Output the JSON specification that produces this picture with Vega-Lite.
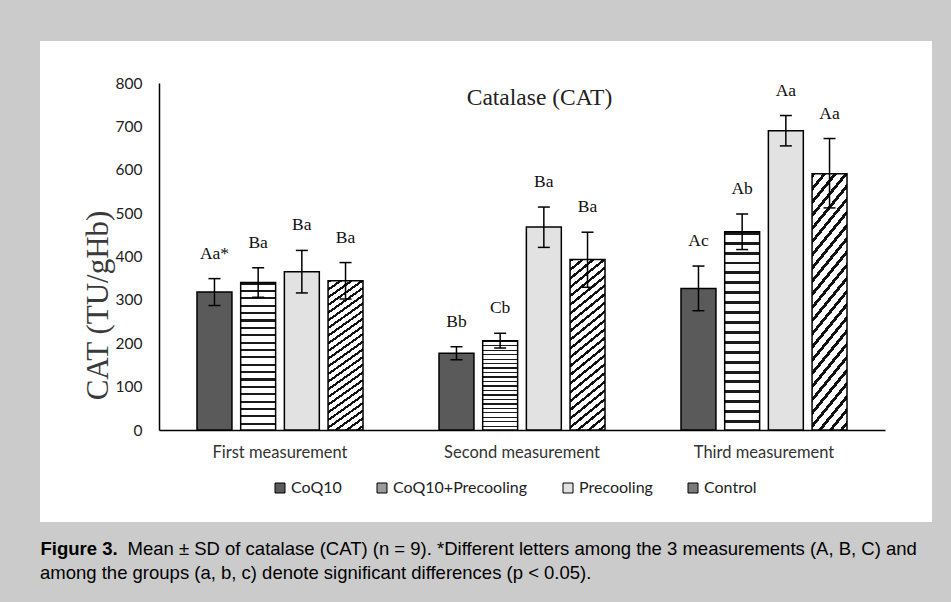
{
  "$schema": "https://vega.github.io/schema/vega-lite/v6.json",
  "width": 892,
  "height": 481,
  "autosize": {"type": "none"},
  "padding": {"left": 40, "top": 41, "right": 19, "bottom": 80},
  "background": "#cbcbcb",
  "title": {
    "text": "among the groups (a, b, c) denote significant differences (p < 0.05).",
    "orient": "top",
    "anchor": "start",
    "frame": "group",
    "baseline": "alphabetic",
    "offset": -556,
    "font": "Liberation Sans",
    "fontSize": 18.5,
    "fontWeight": "normal",
    "color": "#000000"
  },
  "config": {"view": {"fill": "white", "stroke": null}},
  "resolve": {"axis": {"x": "independent", "y": "independent"}},
  "data": {
    "values": [
      {"measurement": "First measurement", "group": "CoQ10", "mean": 318, "lo": 287, "hi": 349, "label": "Aa*"},
      {"measurement": "First measurement", "group": "CoQ10+Precooling", "mean": 340, "lo": 306, "hi": 374, "label": "Ba"},
      {"measurement": "First measurement", "group": "Precooling", "mean": 365, "lo": 316, "hi": 414, "label": "Ba"},
      {"measurement": "First measurement", "group": "Control", "mean": 344, "lo": 302, "hi": 386, "label": "Ba"},
      {"measurement": "Second measurement", "group": "CoQ10", "mean": 177, "lo": 162, "hi": 192, "label": "Bb"},
      {"measurement": "Second measurement", "group": "CoQ10+Precooling", "mean": 206, "lo": 189, "hi": 223, "label": "Cb"},
      {"measurement": "Second measurement", "group": "Precooling", "mean": 468, "lo": 421, "hi": 514, "label": "Ba"},
      {"measurement": "Second measurement", "group": "Control", "mean": 393, "lo": 329, "hi": 456, "label": "Ba"},
      {"measurement": "Third measurement", "group": "CoQ10", "mean": 326, "lo": 275, "hi": 378, "label": "Ac"},
      {"measurement": "Third measurement", "group": "CoQ10+Precooling", "mean": 457, "lo": 416, "hi": 498, "label": "Ab"},
      {"measurement": "Third measurement", "group": "Precooling", "mean": 690, "lo": 655, "hi": 725, "label": "Aa"},
      {"measurement": "Third measurement", "group": "Control", "mean": 591, "lo": 512, "hi": 672, "label": "Aa"}
    ]
  },
  "encoding": {
    "x": {
      "field": "measurement",
      "type": "nominal",
      "sort": ["First measurement", "Second measurement", "Third measurement"],
      "scale": {"range": [119, 845], "paddingInner": 0.314, "paddingOuter": 0.157},
      "axis": null
    },
    "xOffset": {
      "field": "group",
      "type": "nominal",
      "sort": ["CoQ10", "CoQ10+Precooling", "Precooling", "Control"],
      "scale": {"paddingInner": 0.2, "paddingOuter": 0}
    }
  },
  "layer": [
    {
      "mark": {"type": "bar", "stroke": "#000000", "strokeWidth": 1.5},
      "encoding": {
        "x": {
          "field": "measurement",
          "type": "nominal",
          "sort": ["First measurement", "Second measurement", "Third measurement"],
          "scale": {"range": [119, 845], "paddingInner": 0.314, "paddingOuter": 0.157},
          "axis": {
            "orient": "bottom",
            "offset": -92,
            "ticks": false,
            "grid": false,
            "domainColor": "#000000",
            "domainWidth": 1.5,
            "labelAngle": 0,
            "labelFont": "Lato",
            "labelFontSize": 16.5,
            "labelColor": "#333333",
            "labelPadding": 14,
            "title": "Catalase (CAT)",
            "titleFont": "Liberation Serif",
            "titleFontSize": 23.5,
            "titleFontWeight": "normal",
            "titleColor": "#222222",
            "titleX": 499,
            "titleY": -333,
            "titleAlign": "center",
            "titleBaseline": "middle"
          }
        },
        "y": {
          "field": "mean",
          "type": "quantitative",
          "scale": {"domain": [0, 800], "range": [389, 42], "nice": false},
          "axis": {
            "orient": "left",
            "offset": -119,
            "ticks": false,
            "grid": false,
            "values": [0, 100, 200, 300, 400, 500, 600, 700, 800],
            "domainColor": "#000000",
            "domainWidth": 1.5,
            "labelFont": "Lato",
            "labelFontSize": 15.5,
            "labelColor": "#222222",
            "labelPadding": 17,
            "title": "CAT (TU/gHb)",
            "titleFont": "Liberation Serif",
            "titleFontSize": 31,
            "titleFontWeight": "normal",
            "titleColor": "#3a3a3a",
            "titleX": -61,
            "titleY": 264,
            "titleAngle": -90,
            "titleAlign": "center",
            "titleBaseline": "middle"
          }
        },
        "fill": {
          "condition": [
            {"test": "datum.group === 'CoQ10+Precooling'", "value": {"gradient": "linear", "x1": 0, "y1": 0, "x2": 0, "y2": 1, "stops": [
              {"offset": 0, "color": "#1a1a1a"}, {"offset": 0.015, "color": "#1a1a1a"}, {"offset": 0.015, "color": "#ffffff"}, {"offset": 0.05, "color": "#ffffff"},
              {"offset": 0.05, "color": "#1a1a1a"}, {"offset": 0.065, "color": "#1a1a1a"}, {"offset": 0.065, "color": "#ffffff"}, {"offset": 0.1, "color": "#ffffff"},
              {"offset": 0.1, "color": "#1a1a1a"}, {"offset": 0.115, "color": "#1a1a1a"}, {"offset": 0.115, "color": "#ffffff"}, {"offset": 0.15, "color": "#ffffff"},
              {"offset": 0.15, "color": "#1a1a1a"}, {"offset": 0.165, "color": "#1a1a1a"}, {"offset": 0.165, "color": "#ffffff"}, {"offset": 0.2, "color": "#ffffff"},
              {"offset": 0.2, "color": "#1a1a1a"}, {"offset": 0.215, "color": "#1a1a1a"}, {"offset": 0.215, "color": "#ffffff"}, {"offset": 0.25, "color": "#ffffff"},
              {"offset": 0.25, "color": "#1a1a1a"}, {"offset": 0.265, "color": "#1a1a1a"}, {"offset": 0.265, "color": "#ffffff"}, {"offset": 0.3, "color": "#ffffff"},
              {"offset": 0.3, "color": "#1a1a1a"}, {"offset": 0.315, "color": "#1a1a1a"}, {"offset": 0.315, "color": "#ffffff"}, {"offset": 0.35, "color": "#ffffff"},
              {"offset": 0.35, "color": "#1a1a1a"}, {"offset": 0.365, "color": "#1a1a1a"}, {"offset": 0.365, "color": "#ffffff"}, {"offset": 0.4, "color": "#ffffff"},
              {"offset": 0.4, "color": "#1a1a1a"}, {"offset": 0.415, "color": "#1a1a1a"}, {"offset": 0.415, "color": "#ffffff"}, {"offset": 0.45, "color": "#ffffff"},
              {"offset": 0.45, "color": "#1a1a1a"}, {"offset": 0.465, "color": "#1a1a1a"}, {"offset": 0.465, "color": "#ffffff"}, {"offset": 0.5, "color": "#ffffff"},
              {"offset": 0.5, "color": "#1a1a1a"}, {"offset": 0.515, "color": "#1a1a1a"}, {"offset": 0.515, "color": "#ffffff"}, {"offset": 0.55, "color": "#ffffff"},
              {"offset": 0.55, "color": "#1a1a1a"}, {"offset": 0.565, "color": "#1a1a1a"}, {"offset": 0.565, "color": "#ffffff"}, {"offset": 0.6, "color": "#ffffff"},
              {"offset": 0.6, "color": "#1a1a1a"}, {"offset": 0.615, "color": "#1a1a1a"}, {"offset": 0.615, "color": "#ffffff"}, {"offset": 0.65, "color": "#ffffff"},
              {"offset": 0.65, "color": "#1a1a1a"}, {"offset": 0.665, "color": "#1a1a1a"}, {"offset": 0.665, "color": "#ffffff"}, {"offset": 0.7, "color": "#ffffff"},
              {"offset": 0.7, "color": "#1a1a1a"}, {"offset": 0.715, "color": "#1a1a1a"}, {"offset": 0.715, "color": "#ffffff"}, {"offset": 0.75, "color": "#ffffff"},
              {"offset": 0.75, "color": "#1a1a1a"}, {"offset": 0.765, "color": "#1a1a1a"}, {"offset": 0.765, "color": "#ffffff"}, {"offset": 0.8, "color": "#ffffff"},
              {"offset": 0.8, "color": "#1a1a1a"}, {"offset": 0.815, "color": "#1a1a1a"}, {"offset": 0.815, "color": "#ffffff"}, {"offset": 0.85, "color": "#ffffff"},
              {"offset": 0.85, "color": "#1a1a1a"}, {"offset": 0.865, "color": "#1a1a1a"}, {"offset": 0.865, "color": "#ffffff"}, {"offset": 0.9, "color": "#ffffff"},
              {"offset": 0.9, "color": "#1a1a1a"}, {"offset": 0.915, "color": "#1a1a1a"}, {"offset": 0.915, "color": "#ffffff"}, {"offset": 0.95, "color": "#ffffff"},
              {"offset": 0.95, "color": "#1a1a1a"}, {"offset": 0.965, "color": "#1a1a1a"}, {"offset": 0.965, "color": "#ffffff"}, {"offset": 1, "color": "#ffffff"}
            ]}},
            {"test": "datum.group === 'Control'", "value": {"gradient": "linear", "x1": 0, "y1": 0, "x2": 0.2, "y2": 1.2, "stops": [
              {"offset": 0, "color": "#111111"}, {"offset": 0.0146, "color": "#111111"}, {"offset": 0.0146, "color": "#ffffff"}, {"offset": 0.0417, "color": "#ffffff"},
              {"offset": 0.0417, "color": "#111111"}, {"offset": 0.0563, "color": "#111111"}, {"offset": 0.0563, "color": "#ffffff"}, {"offset": 0.0833, "color": "#ffffff"},
              {"offset": 0.0833, "color": "#111111"}, {"offset": 0.0979, "color": "#111111"}, {"offset": 0.0979, "color": "#ffffff"}, {"offset": 0.125, "color": "#ffffff"},
              {"offset": 0.125, "color": "#111111"}, {"offset": 0.1396, "color": "#111111"}, {"offset": 0.1396, "color": "#ffffff"}, {"offset": 0.1667, "color": "#ffffff"},
              {"offset": 0.1667, "color": "#111111"}, {"offset": 0.1813, "color": "#111111"}, {"offset": 0.1813, "color": "#ffffff"}, {"offset": 0.2083, "color": "#ffffff"},
              {"offset": 0.2083, "color": "#111111"}, {"offset": 0.2229, "color": "#111111"}, {"offset": 0.2229, "color": "#ffffff"}, {"offset": 0.25, "color": "#ffffff"},
              {"offset": 0.25, "color": "#111111"}, {"offset": 0.2646, "color": "#111111"}, {"offset": 0.2646, "color": "#ffffff"}, {"offset": 0.2917, "color": "#ffffff"},
              {"offset": 0.2917, "color": "#111111"}, {"offset": 0.3063, "color": "#111111"}, {"offset": 0.3063, "color": "#ffffff"}, {"offset": 0.3333, "color": "#ffffff"},
              {"offset": 0.3333, "color": "#111111"}, {"offset": 0.3479, "color": "#111111"}, {"offset": 0.3479, "color": "#ffffff"}, {"offset": 0.375, "color": "#ffffff"},
              {"offset": 0.375, "color": "#111111"}, {"offset": 0.3896, "color": "#111111"}, {"offset": 0.3896, "color": "#ffffff"}, {"offset": 0.4167, "color": "#ffffff"},
              {"offset": 0.4167, "color": "#111111"}, {"offset": 0.4313, "color": "#111111"}, {"offset": 0.4313, "color": "#ffffff"}, {"offset": 0.4583, "color": "#ffffff"},
              {"offset": 0.4583, "color": "#111111"}, {"offset": 0.4729, "color": "#111111"}, {"offset": 0.4729, "color": "#ffffff"}, {"offset": 0.5, "color": "#ffffff"},
              {"offset": 0.5, "color": "#111111"}, {"offset": 0.5146, "color": "#111111"}, {"offset": 0.5146, "color": "#ffffff"}, {"offset": 0.5417, "color": "#ffffff"},
              {"offset": 0.5417, "color": "#111111"}, {"offset": 0.5563, "color": "#111111"}, {"offset": 0.5563, "color": "#ffffff"}, {"offset": 0.5833, "color": "#ffffff"},
              {"offset": 0.5833, "color": "#111111"}, {"offset": 0.5979, "color": "#111111"}, {"offset": 0.5979, "color": "#ffffff"}, {"offset": 0.625, "color": "#ffffff"},
              {"offset": 0.625, "color": "#111111"}, {"offset": 0.6396, "color": "#111111"}, {"offset": 0.6396, "color": "#ffffff"}, {"offset": 0.6667, "color": "#ffffff"},
              {"offset": 0.6667, "color": "#111111"}, {"offset": 0.6813, "color": "#111111"}, {"offset": 0.6813, "color": "#ffffff"}, {"offset": 0.7083, "color": "#ffffff"},
              {"offset": 0.7083, "color": "#111111"}, {"offset": 0.7229, "color": "#111111"}, {"offset": 0.7229, "color": "#ffffff"}, {"offset": 0.75, "color": "#ffffff"},
              {"offset": 0.75, "color": "#111111"}, {"offset": 0.7646, "color": "#111111"}, {"offset": 0.7646, "color": "#ffffff"}, {"offset": 0.7917, "color": "#ffffff"},
              {"offset": 0.7917, "color": "#111111"}, {"offset": 0.8063, "color": "#111111"}, {"offset": 0.8063, "color": "#ffffff"}, {"offset": 0.8333, "color": "#ffffff"},
              {"offset": 0.8333, "color": "#111111"}, {"offset": 0.8479, "color": "#111111"}, {"offset": 0.8479, "color": "#ffffff"}, {"offset": 0.875, "color": "#ffffff"},
              {"offset": 0.875, "color": "#111111"}, {"offset": 0.8896, "color": "#111111"}, {"offset": 0.8896, "color": "#ffffff"}, {"offset": 0.9167, "color": "#ffffff"},
              {"offset": 0.9167, "color": "#111111"}, {"offset": 0.9313, "color": "#111111"}, {"offset": 0.9313, "color": "#ffffff"}, {"offset": 0.9583, "color": "#ffffff"},
              {"offset": 0.9583, "color": "#111111"}, {"offset": 0.9729, "color": "#111111"}, {"offset": 0.9729, "color": "#ffffff"}, {"offset": 1, "color": "#ffffff"}
            ]}}
          ],
          "field": "group",
          "type": "nominal",
          "sort": ["CoQ10", "CoQ10+Precooling", "Precooling", "Control"],
          "scale": {"range": ["#5a5a5a", "#9a9a9a", "#e2e2e2", "#7a7a7a"]},
          "legend": {
            "orient": "none",
            "legendX": 232,
            "legendY": 439,
            "direction": "horizontal",
            "title": null,
            "symbolType": "square",
            "symbolSize": 100,
            "symbolStrokeColor": "#000000",
            "symbolStrokeWidth": 1,
            "labelFont": "Lato",
            "labelFontSize": 16,
            "labelColor": "#222222",
            "labelOffset": 3,
            "columnPadding": 32,
            "padding": 0
          }
        }
      }
    },
    {
      "mark": {"type": "rule", "strokeWidth": 1.5, "color": "#000000"},
      "encoding": {
        "x": {
          "field": "measurement",
          "type": "nominal",
          "sort": ["First measurement", "Second measurement", "Third measurement"],
          "axis": {
            "orient": "top",
            "labels": false,
            "ticks": false,
            "domain": false,
            "grid": false,
            "title": "Figure 3.",
            "titleFont": "Liberation Sans",
            "titleFontSize": 18.5,
            "titleFontWeight": "bold",
            "titleColor": "#000000",
            "titleX": 0,
            "titleY": 513,
            "titleAngle": 0,
            "titleAlign": "left",
            "titleBaseline": "alphabetic"
          }
        },
        "y": {"field": "lo", "type": "quantitative", "axis": null},
        "y2": {"field": "hi"}
      }
    },
    {
      "mark": {"type": "tick", "thickness": 1.5, "size": 12, "color": "#000000", "opacity": 1},
      "encoding": {
        "y": {
          "field": "hi",
          "type": "quantitative",
          "axis": {
            "orient": "right",
            "labels": false,
            "ticks": false,
            "domain": false,
            "grid": false,
            "title": "Mean ± SD of catalase (CAT) (n = 9). *Different letters among the 3 measurements (A, B, C) and",
            "titleFont": "Liberation Sans",
            "titleFontSize": 18.5,
            "titleFontWeight": "normal",
            "titleColor": "#000000",
            "titleX": -805,
            "titleY": 513,
            "titleAngle": 0,
            "titleAlign": "left",
            "titleBaseline": "alphabetic"
          }
        }
      }
    },
    {
      "mark": {"type": "tick", "thickness": 1.5, "size": 12, "color": "#000000", "opacity": 1},
      "encoding": {
        "y": {"field": "lo", "type": "quantitative", "axis": null}
      }
    },
    {
      "mark": {"type": "text", "dy": -25, "baseline": "middle", "align": "center", "font": "Liberation Serif", "fontSize": 17.5, "color": "#111111"},
      "encoding": {
        "y": {"field": "hi", "type": "quantitative", "axis": null},
        "text": {"field": "label", "type": "nominal"}
      }
    }
  ]
}
